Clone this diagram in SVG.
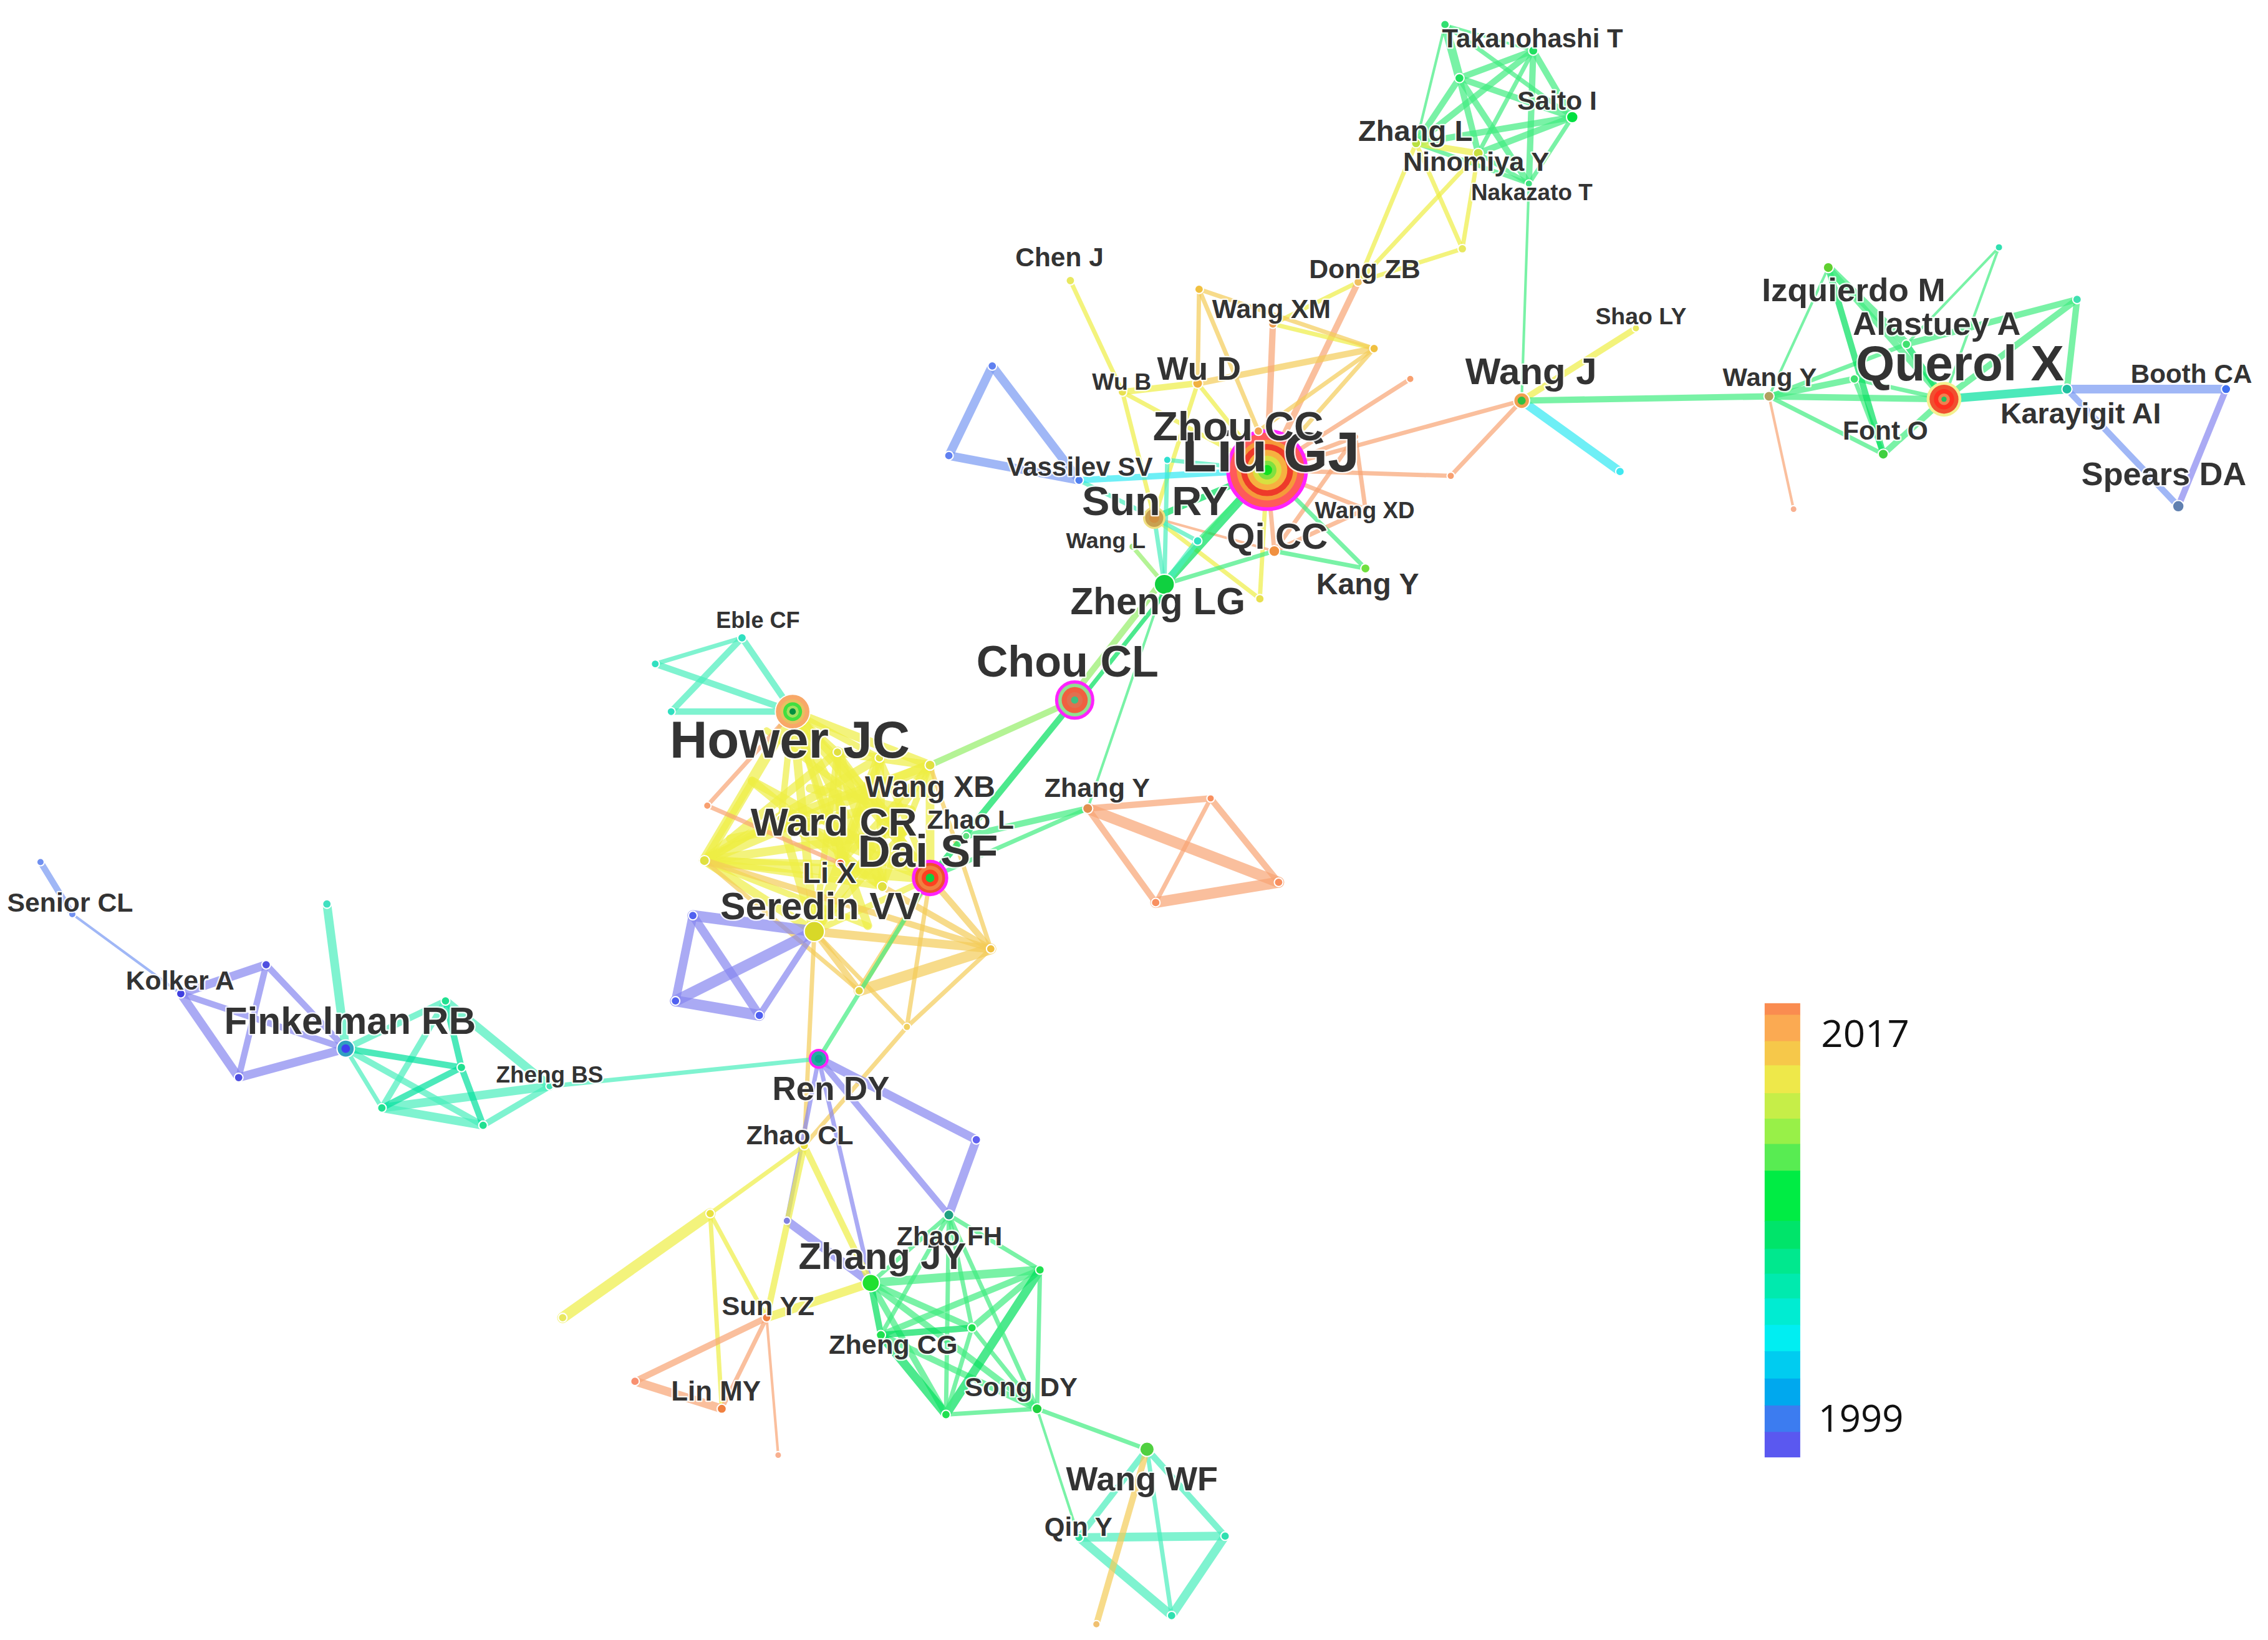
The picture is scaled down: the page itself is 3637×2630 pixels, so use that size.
<svg xmlns="http://www.w3.org/2000/svg" width="3637" height="2630" viewBox="0 0 3637 2630">
<style>
.e{fill:none;stroke-linecap:round;stroke-linejoin:round;stroke-opacity:.7}
.w1{stroke-width:1.8}.w2{stroke-width:3}.w3{stroke-width:4.4}.w4{stroke-width:6}.w5{stroke-width:7.6}
.pu{stroke:#8686f0}.bl{stroke:#7898f2}.cy{stroke:#30e8f2}.te{stroke:#48eebc}.bt{stroke:#00e09c}.gr{stroke:#40ec80}.bg{stroke:#00e05c}.lg{stroke:#94ee68}.ye{stroke:#eeee44}.yo{stroke:#f4cc58}.or{stroke:#f8a474}
.n{stroke:#fff;stroke-width:.9}
.lb{font-family:"Liberation Sans",Arial,sans-serif;font-weight:bold;fill:#333;stroke:#fff;stroke-width:2;stroke-opacity:.85;paint-order:stroke;stroke-linejoin:round}
.yr{font-family:"Open Sans","Liberation Sans",sans-serif;fill:#111;font-size:26px}
</style>
<rect width="3637" height="2630" fill="#fff"/>
<g transform="scale(2.31952)">
<g id="connectors">
<!-- top cluster -->
<path class="e gr w1" d="M999 17L1060 35"/><path class="e gr w1" d="M999 17L979 99"/><path class="e gr w1" d="M1057 127L1052 277"/>
<path class="e gr w2" d="M999 17L1087 81"/><path class="e gr w2" d="M1022 106L1060 35"/><path class="e gr w2" d="M1057 127L1087 81"/><path class="e gr w2" d="M1022 106L1057 127"/><path class="e gr w2" d="M979 99L1057 127"/>
<path class="e gr w3" d="M1009 54L1060 35"/><path class="e gr w3" d="M1009 54L1087 81"/><path class="e gr w3" d="M1009 54L979 99"/><path class="e gr w3" d="M1009 54L1057 127"/><path class="e gr w3" d="M1009 54L1022 106"/><path class="e gr w3" d="M979 99L1060 35"/><path class="e gr w3" d="M979 99L1087 81"/><path class="e gr w3" d="M1022 106L1087 81"/><path class="e gr w3" d="M1057 127L1060 35"/><path class="e gr w3" d="M1060 35L1087 81"/>
<path class="e gr w4" d="M999 17L1009 54"/>
<path class="e ye w3" d="M979 99L1022 106"/>
<path class="e ye w2" d="M979 99L1011 172"/><path class="e ye w2" d="M979 99L939 195"/><path class="e ye w2" d="M1022 106L939 195"/><path class="e ye w2" d="M1022 106L1011 172"/><path class="e ye w2" d="M1011 172L939 195"/><path class="e ye w2" d="M939 195L880 224"/>
<path class="e or w3" d="M939 195L876 325"/>
<!-- Liu GJ cluster -->
<path class="e ye w2" d="M740 194L776 271"/><path class="e ye w2" d="M776 271L798 358"/><path class="e ye w2" d="M776 271L876 325"/><path class="e ye w2" d="M828 265L876 325"/><path class="e ye w2" d="M828 265L798 358"/><path class="e ye w2" d="M871 414L876 325"/><path class="e ye w2" d="M871 414L798 358"/><path class="e ye w2" d="M880 224L950 241"/>
<path class="e ye w3" d="M776 271L828 265"/>
<path class="e yo w2" d="M829 200L828 265"/><path class="e yo w2" d="M829 200L870 298"/><path class="e yo w2" d="M829 200L950 241"/><path class="e yo w2" d="M950 241L870 298"/><path class="e yo w2" d="M950 241L876 325"/>
<path class="e yo w3" d="M828 265L950 241"/>
<path class="e or w3" d="M880 224L876 325"/>
<path class="e or w2" d="M975 262L876 325"/><path class="e or w2" d="M1003 329L876 325"/><path class="e or w2" d="M876 325L1052 277"/><path class="e or w2" d="M1003 329L1052 277"/><path class="e or w2" d="M876 325L944 352"/><path class="e or w2" d="M944 352L881 381"/><path class="e or w2" d="M881 381L876 325"/><path class="e or w2" d="M937 302L944 352"/><path class="e or w2" d="M937 302L881 381"/><path class="e or w2" d="M937 302L876 325"/>
<path class="e or w1" d="M798 358L881 381"/>
<path class="e bg w3" d="M798 358L876 325"/>
<path class="e bg w4" d="M805 404L876 325"/>
<path class="e te w3" d="M828 374L805 404"/>
<path class="e te w2" d="M828 374L798 358"/><path class="e te w2" d="M807 318L805 404"/><path class="e te w2" d="M798 358L746 332"/><path class="e te w2" d="M798 358L805 404"/><path class="e te w2" d="M807 318L876 325"/>
<path class="e cy w3" d="M746 332L876 325"/>
<path class="e gr w2" d="M828 374L876 325"/><path class="e gr w2" d="M805 404L881 381"/><path class="e gr w2" d="M944 393L876 325"/><path class="e gr w2" d="M944 393L881 381"/>
<path class="e gr w1" d="M805 404L752 559"/>
<path class="e lg w3" d="M801 405L740 483"/>
<path class="e bg w2" d="M808 407L746 485"/>
<path class="e lg w2" d="M783 378L805 404"/>
<path class="e bl w4" d="M686 253L656 315"/><path class="e bl w4" d="M686 253L746 332"/><path class="e bl w4" d="M656 315L746 332"/>
<!-- Wang J -->
<path class="e cy w4" d="M1052 277L1120 326"/>
<path class="e ye w3" d="M1052 277L1131 227"/>
<path class="e gr w3" d="M1052 277L1223 274"/>
<path class="e or w1" d="M1223 274L1240 352"/>
<!-- Querol -->
<path class="e gr w1" d="M1223 274L1264 185"/><path class="e gr w1" d="M1382 171L1344 276"/><path class="e gr w1" d="M1382 171L1318 238"/>
<path class="e gr w2" d="M1223 274L1302 314"/><path class="e gr w2" d="M1223 274L1318 238"/><path class="e gr w2" d="M1282 262L1302 314"/><path class="e gr w2" d="M1282 262L1344 276"/>
<path class="e gr w3" d="M1223 274L1344 276"/><path class="e gr w3" d="M1223 274L1282 262"/><path class="e gr w3" d="M1264 185L1344 276"/><path class="e gr w3" d="M1344 276L1302 314"/><path class="e gr w3" d="M1318 238L1436 207"/><path class="e gr w3" d="M1436 207L1344 276"/><path class="e gr w3" d="M1436 207L1429 269"/>
<path class="e bg w3" d="M1264 185L1302 314"/><path class="e bg w3" d="M1318 238L1344 276"/>
<path class="e gr w4" d="M1264 185L1318 238"/>
<path class="e bt w4" d="M1344 276L1429 269"/>
<path class="e bl w4" d="M1429 269L1539 269"/>
<path class="e bl w3" d="M1429 269L1506 350"/>
<path class="e pu w3" d="M1539 269L1506 350"/>
<!-- Hower / Dai -->
<path class="e te w2" d="M513 441L453 459"/>
<path class="e te w3" d="M513 441L464 492"/><path class="e te w3" d="M513 441L548 492"/><path class="e te w3" d="M453 459L548 492"/><path class="e te w3" d="M464 492L548 492"/>
<path class="e ye w5" d="M548 492L643 607"/><path class="e ye w5" d="M548 492L487 595"/><path class="e ye w5" d="M643 529L487 595"/><path class="e ye w5" d="M487 595L643 607"/><path class="e ye w5" d="M540 566L643 607"/><path class="e ye w5" d="M579 520L610 613"/><path class="e ye w5" d="M608 524L563 644"/>
<path class="e ye w4" d="M548 492L643 529"/><path class="e ye w4" d="M548 492L610 613"/><path class="e ye w4" d="M643 529L643 607"/><path class="e ye w4" d="M487 595L563 644"/><path class="e ye w4" d="M579 520L487 595"/><path class="e ye w4" d="M548 492L563 644"/><path class="e ye w4" d="M608 524L487 595"/><path class="e ye w4" d="M643 529L563 644"/><path class="e ye w4" d="M540 566L643 529"/><path class="e ye w4" d="M540 566L563 644"/><path class="e ye w4" d="M540 566L610 613"/><path class="e ye w4" d="M608 524L610 613"/><path class="e ye w4" d="M579 520L643 529"/><path class="e ye w4" d="M548 492L600 640"/><path class="e ye w4" d="M548 492L625 575"/><path class="e ye w4" d="M487 595L625 575"/><path class="e ye w4" d="M520 540L610 613"/><path class="e ye w4" d="M520 540L643 607"/><path class="e ye w4" d="M560 545L630 560"/><path class="e ye w4" d="M505 580L600 560"/>
<path class="e ye w3" d="M548 492L579 520"/><path class="e ye w3" d="M548 492L608 524"/><path class="e ye w3" d="M579 520L643 607"/><path class="e ye w3" d="M608 524L643 607"/><path class="e ye w3" d="M487 595L610 613"/><path class="e ye w3" d="M563 644L643 607"/><path class="e ye w3" d="M579 520L563 644"/><path class="e ye w3" d="M487 595L581 597"/><path class="e ye w3" d="M643 529L610 613"/><path class="e ye w3" d="M548 492L581 597"/><path class="e ye w3" d="M540 566L487 595"/><path class="e ye w3" d="M540 566L548 492"/><path class="e ye w3" d="M643 529L581 597"/><path class="e ye w3" d="M579 520L581 597"/><path class="e ye w3" d="M608 524L581 597"/><path class="e ye w3" d="M487 595L600 640"/><path class="e ye w3" d="M520 540L487 595"/><path class="e ye w3" d="M530 505L625 575"/><path class="e ye w3" d="M563 644L625 575"/>
<path class="e yo w3" d="M643 607L685 656"/><path class="e yo w3" d="M610 613L685 656"/><path class="e yo w3" d="M487 595L685 656"/><path class="e yo w3" d="M563 644L594 685"/><path class="e yo w3" d="M643 607L594 685"/>
<path class="e yo w4" d="M563 644L685 656"/>
<path class="e yo w5" d="M594 685L685 656"/>
<path class="e yo w2" d="M563 644L627 710"/><path class="e yo w2" d="M627 710L685 656"/><path class="e yo w2" d="M643 607L627 710"/><path class="e yo w2" d="M643 529L685 656"/><path class="e yo w2" d="M487 595L594 685"/><path class="e yo w2" d="M563 644L556 792"/><path class="e yo w2" d="M627 710L556 792"/>
<path class="e or w2" d="M548 492L489 557"/><path class="e or w2" d="M489 557L581 597"/>
<path class="e lg w3" d="M743 484L643 529"/>
<path class="e bg w3" d="M743 484L643 607"/>
<path class="e gr w3" d="M752 559L668 578"/>
<path class="e gr w2" d="M752 559L643 607"/><path class="e gr w2" d="M643 607L566 732"/>
<path class="e pu w5" d="M479 633L563 644"/><path class="e pu w5" d="M467 692L525 702"/><path class="e pu w5" d="M467 692L563 644"/>
<path class="e pu w4" d="M479 633L467 692"/><path class="e pu w4" d="M479 633L525 702"/>
<path class="e pu w3" d="M525 702L563 644"/>
<path class="e or w3" d="M752 559L837 552"/><path class="e or w3" d="M752 559L799 624"/><path class="e or w3" d="M837 552L884 610"/>
<path class="e or w5" d="M752 559L884 610"/><path class="e or w5" d="M799 624L884 610"/>
<path class="e or w2" d="M837 552L799 624"/>
<!-- Finkelman -->
<path class="e bl w3" d="M28 596L50 632"/>
<path class="e bl w1" d="M50 632L125 687"/>
<path class="e pu w4" d="M125 687L184 667"/><path class="e pu w4" d="M125 687L165 745"/><path class="e pu w4" d="M165 745L239 725"/>
<path class="e pu w3" d="M184 667L165 745"/><path class="e pu w3" d="M184 667L239 725"/><path class="e pu w3" d="M125 687L239 725"/>
<path class="e te w4" d="M226 625L239 725"/><path class="e te w4" d="M264 766L334 778"/><path class="e te w4" d="M264 766L380 751"/><path class="e te w4" d="M308 692L380 751"/>
<path class="e te w3" d="M239 725L308 692"/><path class="e te w3" d="M239 725L334 778"/><path class="e te w3" d="M334 778L380 751"/><path class="e te w3" d="M308 692L264 766"/>
<path class="e te w2" d="M239 725L264 766"/>
<path class="e bt w3" d="M239 725L319 738"/><path class="e bt w3" d="M319 738L334 778"/><path class="e bt w3" d="M308 692L319 738"/><path class="e bt w3" d="M319 738L264 766"/>
<path class="e te w2" d="M380 751L566 732"/>
<!-- bottom -->
<path class="e pu w4" d="M566 732L675 788"/><path class="e pu w4" d="M675 788L656 840"/><path class="e pu w4" d="M544 844L602 887"/>
<path class="e pu w3" d="M566 732L656 840"/>
<path class="e pu w2" d="M566 732L602 887"/><path class="e pu w2" d="M566 732L544 844"/>
<path class="e ye w2" d="M556 792L491 839"/><path class="e ye w2" d="M491 839L530 911"/><path class="e ye w2" d="M491 839L499 974"/>
<path class="e ye w3" d="M556 792L602 887"/><path class="e ye w3" d="M556 792L530 911"/>
<path class="e ye w5" d="M491 839L389 911"/>
<path class="e ye w4" d="M530 911L602 887"/>
<path class="e or w3" d="M530 911L439 955"/>
<path class="e or w2" d="M530 911L499 974"/>
<path class="e or w1" d="M530 911L538 1006"/>
<path class="e or w4" d="M439 955L499 974"/>
<path class="e gr w4" d="M602 887L719 878"/>
<path class="e gr w3" d="M602 887L672 918"/><path class="e gr w3" d="M602 887L654 978"/><path class="e gr w3" d="M602 887L717 974"/><path class="e gr w3" d="M719 878L609 923"/><path class="e gr w3" d="M719 878L672 918"/><path class="e gr w3" d="M609 923L717 974"/>
<path class="e bg w3" d="M602 887L609 923"/><path class="e bg w3" d="M672 918L609 923"/>
<path class="e bg w4" d="M719 878L654 978"/><path class="e bg w4" d="M609 923L654 978"/>
<path class="e gr w2" d="M602 887L656 840"/><path class="e gr w2" d="M656 840L719 878"/><path class="e gr w2" d="M656 840L654 978"/><path class="e gr w2" d="M656 840L717 974"/><path class="e gr w2" d="M656 840L609 923"/><path class="e gr w2" d="M656 840L672 918"/><path class="e gr w2" d="M719 878L717 974"/><path class="e gr w2" d="M672 918L654 978"/><path class="e gr w2" d="M654 978L717 974"/><path class="e gr w2" d="M672 918L717 974"/><path class="e gr w2" d="M717 974L793 1002"/>
<path class="e gr w1" d="M717 974L746 1063"/>
<path class="e te w3" d="M793 1002L746 1063"/><path class="e te w3" d="M793 1002L847 1062"/>
<path class="e te w2" d="M793 1002L810 1117"/>
<path class="e te w4" d="M746 1063L847 1062"/><path class="e te w4" d="M746 1063L810 1117"/><path class="e te w4" d="M847 1062L810 1117"/>
<path class="e yo w3" d="M793 1002L758 1123"/>
</g>
<g id="nodes">
<g id="n-anon">
<circle class="n" cx="999" cy="17" r="3" fill="#30e070"/>
<circle class="n" cx="1009" cy="54" r="3.2" fill="#20e060"/>
<circle class="n" cx="1011" cy="172" r="3" fill="#e8e860"/>
<circle class="n" cx="829" cy="200" r="3" fill="#f0c040"/>
<circle class="n" cx="950" cy="241" r="3" fill="#f0c040"/>
<circle class="n" cx="975" cy="262" r="2.6" fill="#f8a070"/>
<circle class="n" cx="1003" cy="329" r="2.6" fill="#f8a070"/>
<circle class="n" cx="937" cy="302" r="2.4" fill="#f8a070"/>
<circle class="n" cx="686" cy="253" r="3" fill="#6080f0"/>
<circle class="n" cx="656" cy="315" r="3" fill="#6080f0"/>
<circle class="n" cx="807" cy="318" r="2.6" fill="#30e0d0"/>
<circle class="n" cx="828" cy="374" r="3" fill="#30e0c0"/>
<circle class="n" cx="871" cy="414" r="3" fill="#e8e050"/>
<circle class="n" cx="1120" cy="326" r="3" fill="#40e8f0"/>
<circle class="n" cx="1240" cy="352" r="2.4" fill="#f8b090"/>
<circle class="n" cx="1382" cy="171" r="2.6" fill="#30e0b0"/>
<circle class="n" cx="1436" cy="207" r="3" fill="#40e0b0"/>
<circle class="n" cx="1282" cy="262" r="3" fill="#40e070"/>
<circle class="n" cx="453" cy="459" r="2.8" fill="#30e0c0"/>
<circle class="n" cx="464" cy="492" r="2.8" fill="#30e0c0"/>
<circle class="n" cx="579" cy="520" r="3" fill="#e0e040"/>
<circle class="n" cx="608" cy="524" r="3" fill="#e0e040"/>
<circle class="n" cx="487" cy="595" r="3.5" fill="#e0e040"/>
<circle class="n" cx="489" cy="557" r="2.6" fill="#f8a070"/>
<circle class="n" cx="610" cy="613" r="3.5" fill="#e0e040"/>
<circle class="n" cx="685" cy="656" r="3" fill="#f0c040"/>
<circle class="n" cx="594" cy="685" r="3" fill="#e0d040"/>
<circle class="n" cx="627" cy="710" r="2.6" fill="#f0d060"/>
<circle class="n" cx="479" cy="633" r="3" fill="#5060f0"/>
<circle class="n" cx="467" cy="692" r="3" fill="#5060f0"/>
<circle class="n" cx="525" cy="702" r="3" fill="#5060f0"/>
<circle class="n" cx="837" cy="552" r="2.6" fill="#f89060"/>
<circle class="n" cx="884" cy="610" r="3" fill="#f89060"/>
<circle class="n" cx="799" cy="624" r="3" fill="#f89060"/>
<circle class="n" cx="28" cy="596" r="2.6" fill="#7090f0"/>
<circle class="n" cx="184" cy="667" r="3" fill="#5050e0"/>
<circle class="n" cx="165" cy="745" r="3" fill="#5050e0"/>
<circle class="n" cx="226" cy="625" r="3" fill="#40e0c0"/>
<circle class="n" cx="308" cy="692" r="3" fill="#20e090"/>
<circle class="n" cx="319" cy="738" r="3" fill="#20e090"/>
<circle class="n" cx="264" cy="766" r="3" fill="#20e090"/>
<circle class="n" cx="334" cy="778" r="3" fill="#20e090"/>
<circle class="n" cx="675" cy="788" r="3" fill="#6060f0"/>
<circle class="n" cx="544" cy="844" r="2.6" fill="#8080e0"/>
<circle class="n" cx="491" cy="839" r="3" fill="#e8e040"/>
<circle class="n" cx="389" cy="911" r="3" fill="#e8e860"/>
<circle class="n" cx="719" cy="878" r="3" fill="#20e050"/>
<circle class="n" cx="672" cy="918" r="3" fill="#20e050"/>
<circle class="n" cx="654" cy="978" r="3" fill="#20e050"/>
<circle class="n" cx="439" cy="955" r="3" fill="#f89070"/>
<circle class="n" cx="538" cy="1006" r="2.4" fill="#f8b090"/>
<circle class="n" cx="847" cy="1062" r="3" fill="#30e0b0"/>
<circle class="n" cx="810" cy="1117" r="3" fill="#30e0b0"/>
<circle class="n" cx="758" cy="1123" r="2.6" fill="#f0c070"/>
</g>
<g id="n-liugj">
<circle cx="876" cy="325" r="27" fill="#ff5a5a" stroke="#ff22ff" stroke-width="2.5"/>
<circle cx="876" cy="325" r="21" fill="#f59a3a"/>
<circle cx="876" cy="325" r="18" fill="#ee3a2a"/>
<circle cx="876" cy="325" r="14" fill="#f7b040"/>
<circle cx="876" cy="325" r="10" fill="#d8e040"/>
<circle cx="876" cy="325" r="6.5" fill="#80e040"/>
<circle cx="876" cy="325" r="3.5" fill="#10e020"/>
<text class="lb" x="817" y="325.9" font-size="39" textLength="123" lengthAdjust="spacingAndGlyphs">Liu GJ</text>
</g>
<g id="n-zhoucc"><circle class="n" cx="870" cy="298" r="3" fill="#f0a050"/><text class="lb" x="797" y="304.2" font-size="28" textLength="118" lengthAdjust="spacingAndGlyphs">Zhou CC</text></g>
<g id="n-chou">
<circle cx="743" cy="484" r="12.5" fill="#90e090" stroke="#ff22ff" stroke-width="2.2"/>
<circle cx="743" cy="484" r="9" fill="#f06040"/>
<circle cx="743" cy="484" r="5.5" fill="#e07050"/>
<circle cx="743" cy="484" r="2.5" fill="#40c080"/>
<text class="lb" x="675" y="467.9" font-size="30" textLength="126" lengthAdjust="spacingAndGlyphs">Chou CL</text>
</g>
<g id="n-hower">
<circle cx="548" cy="492" r="12" fill="#f8a868" stroke="#fff" stroke-width=".8"/>
<circle cx="548" cy="492" r="8.5" fill="#e8c060"/>
<circle cx="548" cy="492" r="6.5" fill="#40e040"/>
<circle cx="548" cy="492" r="4.2" fill="#a0e060"/>
<circle cx="548" cy="492" r="2.2" fill="#009040"/>
<text class="lb" x="463" y="523.9" font-size="36" textLength="166" lengthAdjust="spacingAndGlyphs">Hower JC</text>
</g>
<g id="n-dai">
<circle cx="643" cy="607" r="11.5" fill="#f05030" stroke="#ff22ff" stroke-width="2.2"/>
<circle cx="643" cy="607" r="8.5" fill="#f08040"/>
<circle cx="643" cy="607" r="5.8" fill="#ff4020"/>
<circle cx="643" cy="607" r="3" fill="#10d040"/>
<text class="lb" x="593" y="599.2" font-size="31" textLength="97" lengthAdjust="spacingAndGlyphs">Dai SF</text>
</g>
<g id="n-querol">
<circle cx="1344" cy="276" r="12" fill="#f4f090"/>
<circle cx="1344" cy="276" r="10" fill="#f05030"/>
<circle cx="1344" cy="276" r="7" fill="#ff3020"/>
<circle cx="1344" cy="276" r="4" fill="#f08050"/>
<circle cx="1344" cy="276" r="1.8" fill="#20c060"/>
<text class="lb" x="1283" y="263.2" font-size="34" textLength="144" lengthAdjust="spacingAndGlyphs">Querol X</text>
</g>
<g id="n-sunry"><circle cx="798" cy="358" r="7" fill="#c8a050" stroke="#f0e080" stroke-width="1.5"/><circle cx="798" cy="358" r="3.5" fill="#d09040"/><text class="lb" x="748" y="356.2" font-size="28" textLength="101" lengthAdjust="spacingAndGlyphs">Sun RY</text></g>
<g id="n-zhenglg"><circle class="n" cx="805" cy="404" r="7" fill="#10d040"/><text class="lb" x="740" y="424.6" font-size="26" textLength="121" lengthAdjust="spacingAndGlyphs">Zheng LG</text></g>
<g id="n-seredin"><circle class="n" cx="563" cy="644" r="7" fill="#d8d828"/><text class="lb" x="498" y="635.6" font-size="26" textLength="138" lengthAdjust="spacingAndGlyphs">Seredin VV</text></g>
<g id="n-ren"><circle cx="566" cy="732" r="6" fill="#20b0a0" stroke="#ff22ff" stroke-width="1.8"/><circle cx="566" cy="732" r="2.8" fill="#10a090"/><text class="lb" x="534" y="760.5" font-size="22.8" textLength="81" lengthAdjust="spacingAndGlyphs">Ren DY</text></g>
<g id="n-zhangjy"><circle class="n" cx="602" cy="887" r="6" fill="#20e030"/><text class="lb" x="552" y="877.5" font-size="25.8" textLength="116" lengthAdjust="spacingAndGlyphs">Zhang JY</text></g>
<g id="n-finkelman"><circle class="n" cx="239" cy="725" r="6" fill="#30a0c0"/><circle cx="239" cy="725" r="3" fill="#4040f0"/><text class="lb" x="155" y="714.6" font-size="26" textLength="174" lengthAdjust="spacingAndGlyphs">Finkelman RB</text></g>
<g id="n-wangj"><circle class="n" cx="1052" cy="277" r="5.5" fill="#f0a050"/><circle cx="1052" cy="277" r="2.8" fill="#30c040"/><text class="lb" x="1013" y="265.4" font-size="25.5" textLength="91" lengthAdjust="spacingAndGlyphs">Wang J</text></g>
<g id="n-wangwf"><circle class="n" cx="793" cy="1002" r="5" fill="#50d040"/><text class="lb" x="737" y="1030.6" font-size="23" textLength="105" lengthAdjust="spacingAndGlyphs">Wang WF</text></g>
<g id="n-takanohashi"><circle class="n" cx="1060" cy="35" r="3.2" fill="#20e060"/><text class="lb" x="997" y="32.9" font-size="18" textLength="125" lengthAdjust="spacingAndGlyphs">Takanohashi T</text></g>
<g id="n-saito"><circle class="n" cx="1087" cy="81" r="4" fill="#00e040"/><text class="lb" x="1049" y="75.9" font-size="18" textLength="55" lengthAdjust="spacingAndGlyphs">Saito I</text></g>
<g id="n-zhangl"><circle class="n" cx="979" cy="99" r="3.2" fill="#b8e040"/><text class="lb" x="939" y="97.6" font-size="20" textLength="79" lengthAdjust="spacingAndGlyphs">Zhang L</text></g>
<g id="n-ninomiya"><circle class="n" cx="1022" cy="106" r="3.5" fill="#c8e040"/><text class="lb" x="970" y="118.1" font-size="18.5" textLength="101" lengthAdjust="spacingAndGlyphs">Ninomiya Y</text></g>
<g id="n-nakazato"><circle class="n" cx="1057" cy="127" r="2.6" fill="#40e080"/><text class="lb" x="1017" y="138.3" font-size="16" textLength="84" lengthAdjust="spacingAndGlyphs">Nakazato T</text></g>
<g id="n-dongzb"><circle class="n" cx="939" cy="195" r="3" fill="#f0c060"/><text class="lb" x="905" y="192.1" font-size="18.5" textLength="77" lengthAdjust="spacingAndGlyphs">Dong ZB</text></g>
<g id="n-chenj"><circle class="n" cx="740" cy="194" r="3" fill="#e8e860"/><text class="lb" x="702" y="183.9" font-size="18" textLength="61" lengthAdjust="spacingAndGlyphs">Chen J</text></g>
<g id="n-wangxm"><circle class="n" cx="880" cy="224" r="3" fill="#f0a050"/><text class="lb" x="838" y="219.9" font-size="18" textLength="82" lengthAdjust="spacingAndGlyphs">Wang XM</text></g>
<g id="n-shaoly"><circle class="n" cx="1131" cy="227" r="2.6" fill="#e8e860"/><text class="lb" x="1103" y="224.3" font-size="16" textLength="63" lengthAdjust="spacingAndGlyphs">Shao LY</text></g>
<g id="n-izquierdo"><circle class="n" cx="1264" cy="185" r="3.5" fill="#60d030"/><text class="lb" x="1218" y="208.4" font-size="22.5" textLength="127" lengthAdjust="spacingAndGlyphs">Izquierdo M</text></g>
<g id="n-alastuey"><circle class="n" cx="1318" cy="238" r="3" fill="#40e070"/><text class="lb" x="1281" y="231.3" font-size="22" textLength="116" lengthAdjust="spacingAndGlyphs">Alastuey A</text></g>
<g id="n-booth"><circle class="n" cx="1539" cy="269" r="3.2" fill="#4070f0"/><text class="lb" x="1473" y="264.9" font-size="18" textLength="84" lengthAdjust="spacingAndGlyphs">Booth CA</text></g>
<g id="n-karayigit"><circle class="n" cx="1429" cy="269" r="3.5" fill="#20c0a0"/><text class="lb" x="1383" y="292.6" font-size="20" textLength="111" lengthAdjust="spacingAndGlyphs">Karayigit AI</text></g>
<g id="n-spears"><circle class="n" cx="1506" cy="350" r="4" fill="#6080b0"/><text class="lb" x="1439" y="335.3" font-size="22" textLength="114" lengthAdjust="spacingAndGlyphs">Spears DA</text></g>
<g id="n-wangy"><circle class="n" cx="1223" cy="274" r="3.5" fill="#b0a060"/><text class="lb" x="1191" y="266.8" font-size="17.5" textLength="65" lengthAdjust="spacingAndGlyphs">Wang Y</text></g>
<g id="n-fonto"><circle class="n" cx="1302" cy="314" r="3.5" fill="#40d040"/><text class="lb" x="1274" y="303.9" font-size="18" textLength="59" lengthAdjust="spacingAndGlyphs">Font O</text></g>
<g id="n-wud"><circle class="n" cx="828" cy="265" r="3.5" fill="#f0b040"/><text class="lb" x="800" y="262.4" font-size="22.5" textLength="58" lengthAdjust="spacingAndGlyphs">Wu D</text></g>
<g id="n-wub"><circle class="n" cx="776" cy="271" r="3" fill="#e8e050"/><text class="lb" x="755" y="269.3" font-size="16" textLength="41" lengthAdjust="spacingAndGlyphs">Wu B</text></g>
<g id="n-vassilev"><circle class="n" cx="746" cy="332" r="3" fill="#5080f0"/><text class="lb" x="696" y="328.9" font-size="18" textLength="101" lengthAdjust="spacingAndGlyphs">Vassilev SV</text></g>
<g id="n-wangxd"><circle class="n" cx="944" cy="352" r="2.6" fill="#f8a070"/><text class="lb" x="909" y="358.2" font-size="15.7" textLength="69" lengthAdjust="spacingAndGlyphs">Wang XD</text></g>
<g id="n-wangl"><circle class="n" cx="783" cy="378" r="2.6" fill="#a0e070"/><text class="lb" x="737" y="379" font-size="15" textLength="55" lengthAdjust="spacingAndGlyphs">Wang L</text></g>
<g id="n-qicc"><circle class="n" cx="881" cy="381" r="3.8" fill="#f09040"/><text class="lb" x="848" y="379.3" font-size="25" textLength="70" lengthAdjust="spacingAndGlyphs">Qi CC</text></g>
<g id="n-kangy"><circle class="n" cx="944" cy="393" r="3.2" fill="#70e040"/><text class="lb" x="910" y="410.8" font-size="20.5" textLength="71" lengthAdjust="spacingAndGlyphs">Kang Y</text></g>
<g id="n-eble"><circle class="n" cx="513" cy="441" r="3" fill="#30e0c0"/><text class="lb" x="495" y="434.1" font-size="15.6" textLength="58" lengthAdjust="spacingAndGlyphs">Eble CF</text></g>
<g id="n-wangxb"><circle class="n" cx="643" cy="529" r="3.5" fill="#e0e040"/><text class="lb" x="598" y="550.8" font-size="20.5" textLength="90" lengthAdjust="spacingAndGlyphs">Wang XB</text></g>
<g id="n-zhangy"><circle class="n" cx="752" cy="559" r="3.5" fill="#e09050"/><text class="lb" x="722" y="551.1" font-size="18.5" textLength="73" lengthAdjust="spacingAndGlyphs">Zhang Y</text></g>
<g id="n-wardcr"><circle class="n" cx="540" cy="566" r="3" fill="#e0e040"/><text class="lb" x="519" y="577.9" font-size="27" textLength="115" lengthAdjust="spacingAndGlyphs">Ward CR</text></g>
<g id="n-zhaol"><circle class="n" cx="668" cy="578" r="2.6" fill="#60e080"/><text class="lb" x="641" y="572.9" font-size="18" textLength="60" lengthAdjust="spacingAndGlyphs">Zhao L</text></g>
<g id="n-lix"><circle class="n" cx="581" cy="597" r="3" fill="#f05030"/><text class="lb" x="555" y="610.6" font-size="20" textLength="37" lengthAdjust="spacingAndGlyphs">Li X</text></g>
<g id="n-senior"><circle class="n" cx="50" cy="632" r="2.6" fill="#7090f0"/><text class="lb" x="5" y="630.1" font-size="18.4" textLength="87" lengthAdjust="spacingAndGlyphs">Senior CL</text></g>
<g id="n-kolker"><circle class="n" cx="125" cy="687" r="3" fill="#4040e0"/><text class="lb" x="87" y="684" font-size="18.2" textLength="75" lengthAdjust="spacingAndGlyphs">Kolker A</text></g>
<g id="n-zhengbs"><circle class="n" cx="380" cy="751" r="2.6" fill="#40e0b0"/><text class="lb" x="343" y="748.3" font-size="16" textLength="74" lengthAdjust="spacingAndGlyphs">Zheng BS</text></g>
<g id="n-zhaocl"><circle class="n" cx="556" cy="792" r="3" fill="#e8e040"/><text class="lb" x="516" y="791.1" font-size="18.5" textLength="74" lengthAdjust="spacingAndGlyphs">Zhao CL</text></g>
<g id="n-zhaofh"><circle class="n" cx="656" cy="840" r="3.5" fill="#20a080"/><text class="lb" x="620" y="861" font-size="18.3" textLength="73" lengthAdjust="spacingAndGlyphs">Zhao FH</text></g>
<g id="n-sunyz"><circle class="n" cx="530" cy="911" r="3" fill="#f08040"/><text class="lb" x="499" y="909.1" font-size="18.6" textLength="64" lengthAdjust="spacingAndGlyphs">Sun YZ</text></g>
<g id="n-zhengcg"><circle class="n" cx="609" cy="923" r="3.2" fill="#20e050"/><text class="lb" x="573" y="936.1" font-size="18.6" textLength="89" lengthAdjust="spacingAndGlyphs">Zheng CG</text></g>
<g id="n-songdy"><circle class="n" cx="717" cy="974" r="3.5" fill="#20d040"/><text class="lb" x="667" y="965.2" font-size="18.7" textLength="78" lengthAdjust="spacingAndGlyphs">Song DY</text></g>
<g id="n-linmy"><circle class="n" cx="499" cy="974" r="3.2" fill="#f08040"/><text class="lb" x="464" y="968.2" font-size="18.9" textLength="62" lengthAdjust="spacingAndGlyphs">Lin MY</text></g>
<g id="n-qiny"><circle class="n" cx="746" cy="1063" r="3" fill="#30e0a0"/><text class="lb" x="722" y="1061.9" font-size="18" textLength="47" lengthAdjust="spacingAndGlyphs">Qin Y</text></g>
</g>
<g id="legend">
<rect x="1220" y="693.6" width="24.6" height="8.4" fill="#fa8c50"/>
<rect x="1220" y="701.6" width="24.6" height="18.6" fill="#fbaa52"/>
<rect x="1220" y="719.8" width="24.6" height="17.1" fill="#f6c84a"/>
<rect x="1220" y="736.5" width="24.6" height="19.7" fill="#eee84a"/>
<rect x="1220" y="755.8" width="24.6" height="18" fill="#c6ee48"/>
<rect x="1220" y="773.4" width="24.6" height="17.9" fill="#98f048"/>
<rect x="1220" y="790.9" width="24.6" height="18.9" fill="#58ec52"/>
<rect x="1220" y="809.4" width="24.6" height="35.1" fill="#00ec44"/>
<rect x="1220" y="844.1" width="24.6" height="19.7" fill="#00e46a"/>
<rect x="1220" y="863.4" width="24.6" height="17.6" fill="#00e88e"/>
<rect x="1220" y="880.6" width="24.6" height="17.5" fill="#00eaae"/>
<rect x="1220" y="897.7" width="24.6" height="18.7" fill="#00ecd2"/>
<rect x="1220" y="916" width="24.6" height="18.6" fill="#00eef2"/>
<rect x="1220" y="934.2" width="24.6" height="19.3" fill="#00ccf0"/>
<rect x="1220" y="953.1" width="24.6" height="19" fill="#00a8ee"/>
<rect x="1220" y="971.7" width="24.6" height="18.7" fill="#3c7cf0"/>
<rect x="1220" y="990" width="24.6" height="17.6" fill="#5a58f0"/>
<text class="yr" x="1259" y="724" textLength="61" lengthAdjust="spacingAndGlyphs">2017</text>
<text class="yr" x="1257" y="990" textLength="59" lengthAdjust="spacingAndGlyphs">1999</text>
</g>
</g>
</svg>
